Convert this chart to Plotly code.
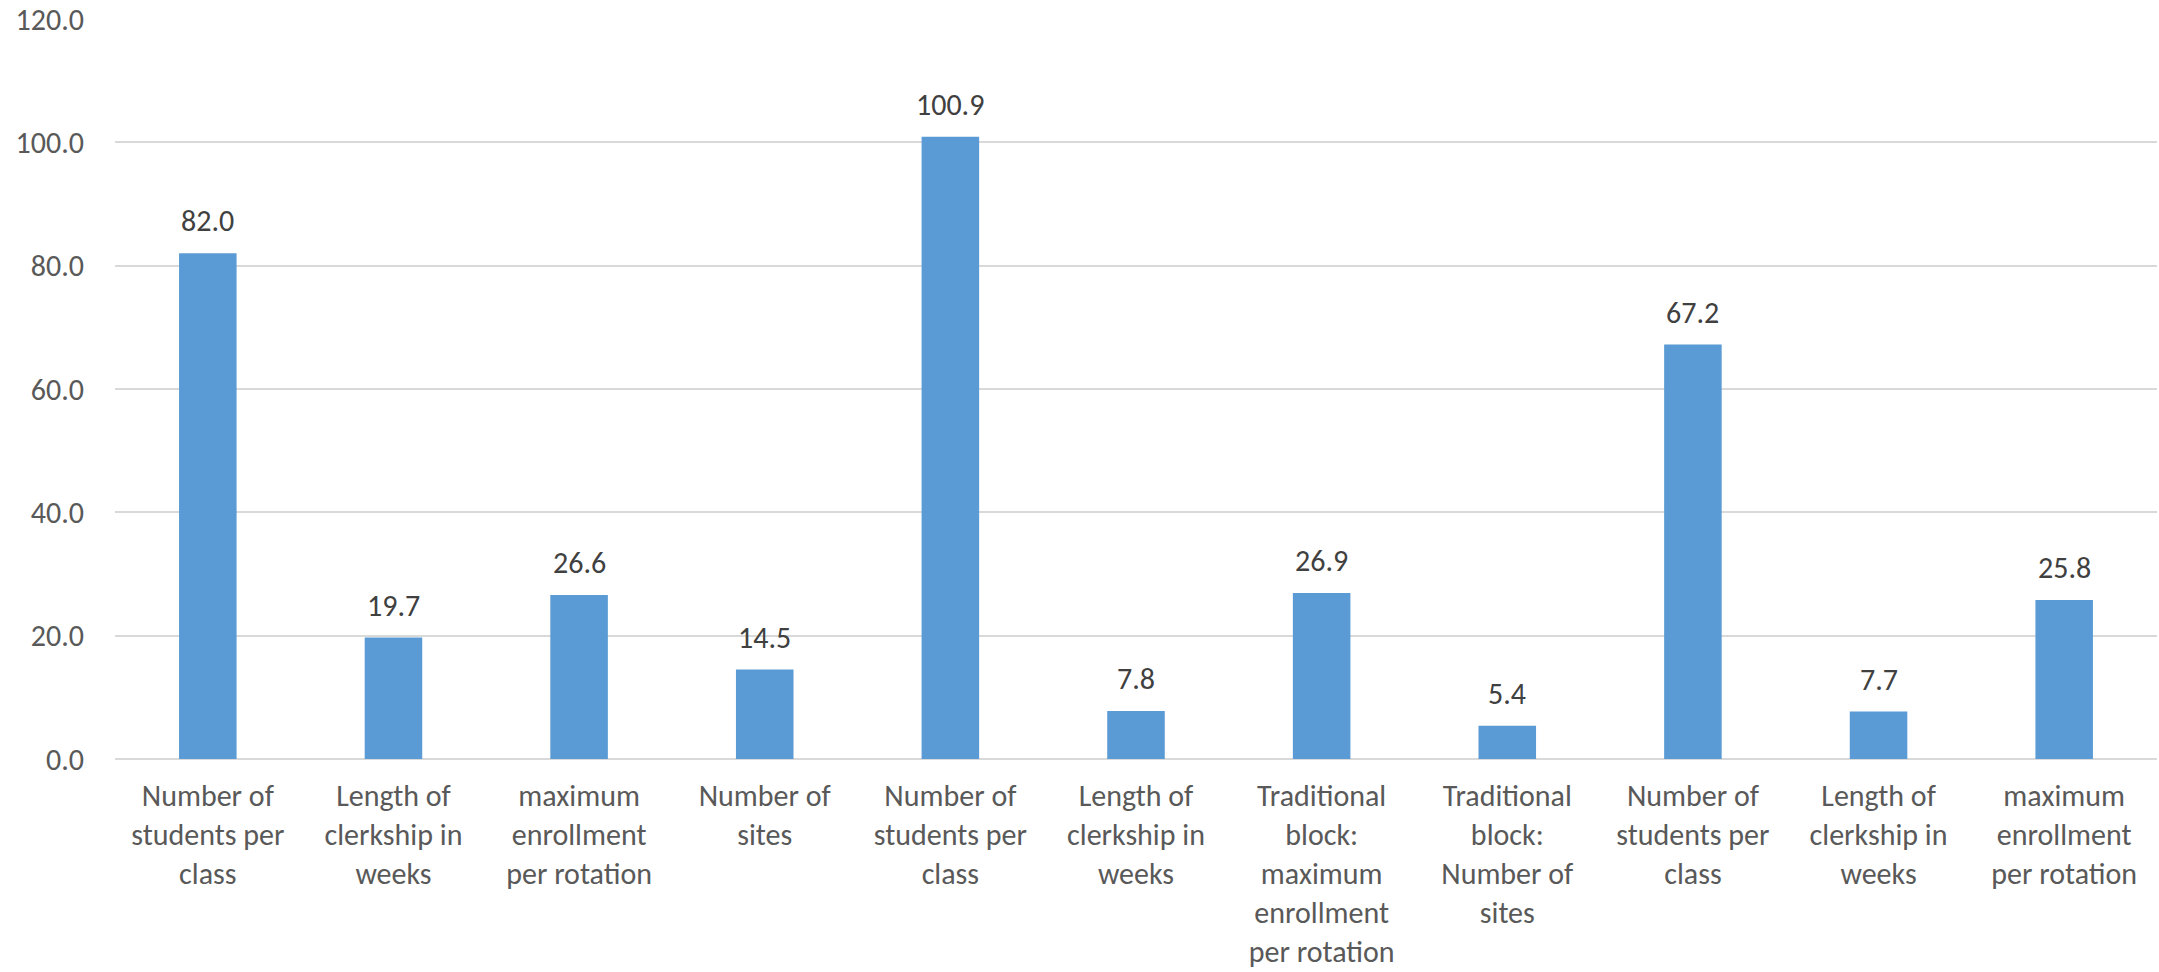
import plotly.graph_objects as go

# Clerkship statistics by measure
categories = [
    "Number of<br>students per<br>class",
    "Length of<br>clerkship in<br>weeks",
    "maximum<br>enrollment<br>per rotation",
    "Number of<br>sites",
    "Number of<br>students per<br>class",
    "Length of<br>clerkship in<br>weeks",
    "Traditional<br>block:<br>maximum<br>enrollment<br>per rotation",
    "Traditional<br>block:<br>Number of<br>sites",
    "Number of<br>students per<br>class",
    "Length of<br>clerkship in<br>weeks",
    "maximum<br>enrollment<br>per rotation",
]
values = [82.0, 19.7, 26.6, 14.5, 100.9, 7.8, 26.9, 5.4, 67.2, 7.7, 25.8]
y_ticks = [0, 20, 40, 60, 80, 100, 120]

FONT = "Carlito, Calibri, Lato, sans-serif"
positions = list(range(len(values)))

fig = go.Figure(
    go.Bar(
        x=positions,
        y=values,
        marker=dict(color="#5B9BD5", line=dict(width=0)),
        width=0.31,
        hoverinfo="skip",
    )
)

# value labels above each bar
for xi, v in zip(positions, values):
    fig.add_annotation(
        x=xi, y=v, text=f"{v:.1f}", showarrow=False,
        yanchor="bottom", yshift=12,
        font=dict(family=FONT, size=30, color="#404040"),
    )

fig.update_layout(
    width=2159, height=972,
    margin=dict(l=115, r=2, t=19, b=213),
    plot_bgcolor="white", paper_bgcolor="white",
    showlegend=False,
    font=dict(family=FONT, size=30, color="#595959"),
)
fig.update_xaxes(
    range=[-0.5, len(values) - 0.5], automargin=False,
    tickmode="array", tickvals=positions, ticktext=categories,
    tickangle=0, showgrid=False, zeroline=False,
    showline=False, ticks="", ticklabelstandoff=16,
    tickfont=dict(family=FONT, size=30, color="#595959"),
)
fig.update_yaxes(
    range=[0, 120], automargin=False, tickmode="array", tickvals=y_ticks,
    tickformat=".1f", showgrid=True, gridcolor="#D9D9D9", gridwidth=2,
    zeroline=True, zerolinecolor="#D9D9D9", zerolinewidth=2,
    showline=False, ticks="", ticklabelstandoff=30,
    tickfont=dict(family=FONT, size=30, color="#595959"),
)

fig.write_html("out.html")
